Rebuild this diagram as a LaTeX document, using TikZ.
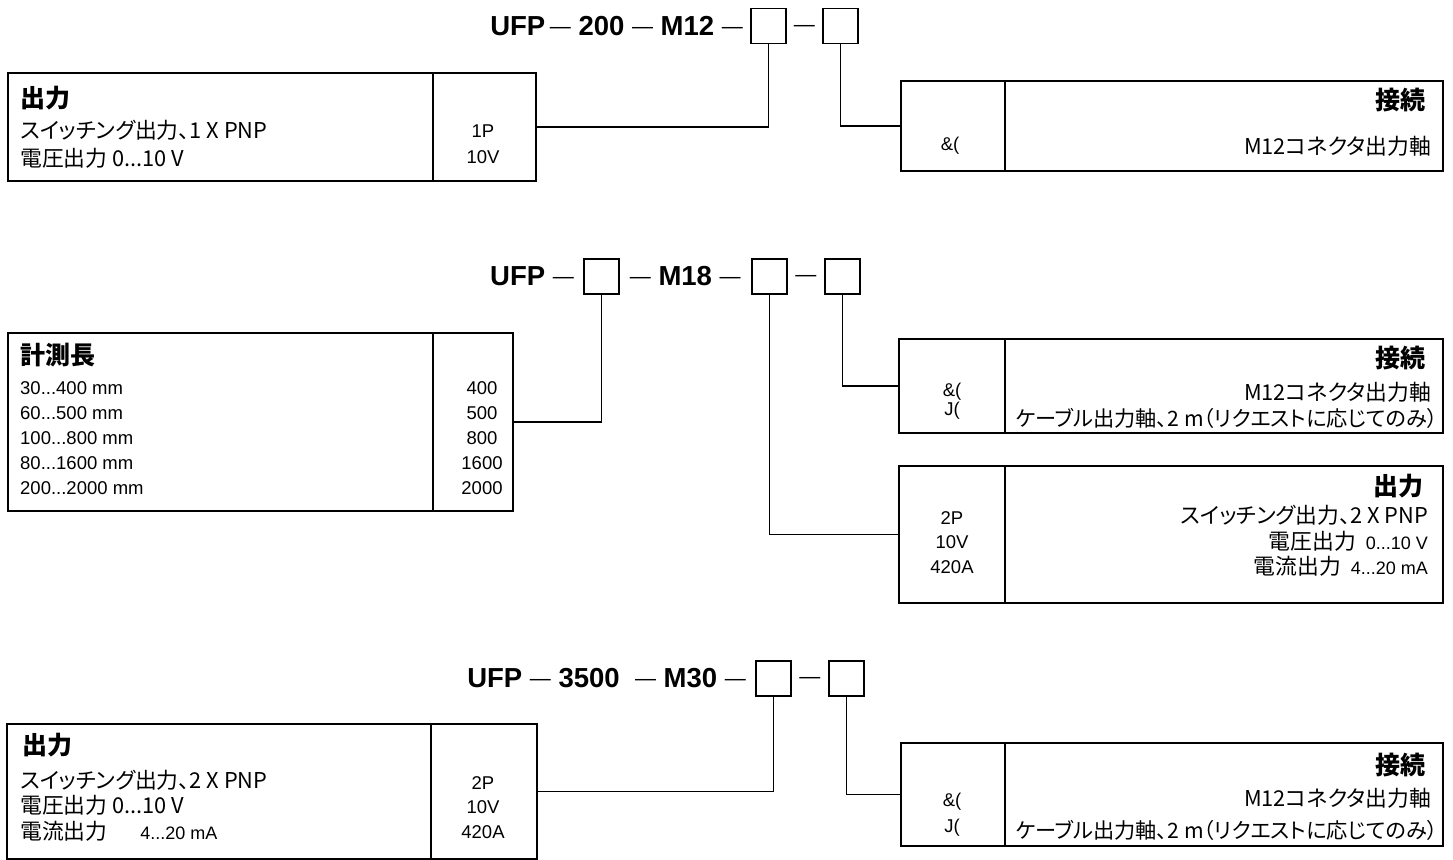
\documentclass[tikz,border=0pt]{standalone}
\usepackage{fontspec}
\setmainfont{Liberation Sans}
\newfontfamily\jpfont[RawFeature=+palt]{Noto Sans CJK JP}
\usetikzlibrary{positioning}

\tikzset{
  frame/.style={draw, line width=1.5pt},
  cell/.style={frame, inner sep=0pt, anchor=north west},
  selbox/.style={frame, minimum width=35pt, minimum height=35pt, inner sep=0pt, anchor=north west},
  link/.style={line width=1.5pt},
  code/.style={font=\fontsize{27.5}{30}\selectfont\bfseries, inner sep=0pt},
  joiner/.style={font=\fontsize{21}{24}\selectfont, inner sep=0pt},
  head/.style={font=\fontsize{25}{28}\selectfont\jpfont\bfseries, inner sep=0pt},
  jp/.style={font=\fontsize{21.8}{24}\selectfont\jpfont, inner sep=0pt},
  jplong/.style={font=\fontsize{21.2}{24}\selectfont\jpfont, inner sep=0pt},
  num/.style={font=\fontsize{18.5}{21}\selectfont, inner sep=0pt},
}
\newcommand{\dsh}{{\fontsize{21}{24}\selectfont\mdseries\raisebox{2pt}{—}}}
\newcommand{\numpart}{\fontsize{18}{21}\selectfont\rmfamily}

\begin{document}
\begin{tikzpicture}[x=1pt, y=-1pt]
\useasboundingbox (0,0) rectangle (1453,859);

% ---- 1. UFP-200-M12 ----
\node[selbox] (s11) at (750,8) {};
\node[selbox] (s12) at (822,8) {};
\node[code, anchor=east] (c1) at ([xshift=-7pt]s11.west) {UFP\,\dsh{} 200 \dsh{} M12 \dsh};
\path (s11.east) -- (s12.west) node[midway, joiner] (d11) {\vphantom{M}\raisebox{2pt}{—}};

\node[cell, minimum width=425pt, minimum height=108pt] (outA) at (7,72) {};
\node[cell, minimum width=103pt, minimum height=108pt] (outAc) at (432,72) {};
\node[head, anchor=west] (outAh) at (20,98) {出力};
\node[jp, anchor=west] (outA1) at (20,130) {スイッチング出力、1 X PNP};
\node[jp, anchor=west] (outA2) at (20,158) {電圧出力 0...10 V};
\node[num] (outAk1) at (483,131) {1P};
\node[num] (outAk2) at (483,157) {10V};

\node[cell, minimum width=104pt, minimum height=90pt] (conAc) at (900,80) {};
\node[cell, minimum width=438pt, minimum height=90pt] (conA) at (1004,80) {};
\node[head, anchor=east] (conAh) at (1426,100) {接続};
\node[jp, anchor=east] (conA1) at (1431,146) {M12コネクタ出力軸};
\node[num] (conAk1) at (950,146) {\&(};

\draw[link] (s11.south) |- (outAc.east);
\draw[link] (s12.south) |- (conAc.west);

% ---- 2. UFP-xxx-M18 ----
\node[selbox] (s21) at (583,258) {};
\node[selbox] (s22) at (751,258) {};
\node[selbox] (s23) at (824,258) {};
\node[code, anchor=east] (c2) at ([xshift=-9pt]s21.west) {UFP \dsh};
\path (s21.east) -- (s22.west) node[midway, code] (c2m) {\dsh{} M18 \dsh};
\path (s22.east) -- (s23.west) node[midway, joiner] (d22) {\vphantom{M}\raisebox{2pt}{—}};

\node[cell, minimum width=425pt, minimum height=178pt] (lenB) at (7,332) {};
\node[cell, minimum width=80pt, minimum height=178pt] (lenBc) at (432,332) {};
\node[head, anchor=west] (lenBh) at (20,355) {計測長};
\node[num, anchor=west] (lenB1) at (20,388) {30...400 mm};
\node[num, anchor=west] (lenB2) at (20,413) {60...500 mm};
\node[num, anchor=west] (lenB3) at (20,438) {100...800 mm};
\node[num, anchor=west] (lenB4) at (20,463) {80...1600 mm};
\node[num, anchor=west] (lenB5) at (20,488) {200...2000 mm};
\node[num] (lenBk1) at (482,388) {400};
\node[num] (lenBk2) at (482,413) {500};
\node[num] (lenBk3) at (482,438) {800};
\node[num] (lenBk4) at (482,463) {1600};
\node[num] (lenBk5) at (482,488) {2000};

\node[cell, minimum width=106pt, minimum height=94pt] (conBc) at (898,338) {};
\node[cell, minimum width=438pt, minimum height=94pt] (conB) at (1004,338) {};
\node[head, anchor=east] (conBh) at (1426,358) {接続};
\node[jp, anchor=east] (conB1) at (1431,392) {M12コネクタ出力軸};
\node[jplong, anchor=east] (conB2) at (1438,418) {ケーブル出力軸、2 m（リクエストに応じてのみ）};
\node[num] (conBk1) at (952,392) {\&(};
\node[num] (conBk2) at (952,411) {J(};

\node[cell, minimum width=106pt, minimum height=137pt] (outBc) at (898,465) {};
\node[cell, minimum width=438pt, minimum height=137pt] (outB) at (1004,465) {};
\node[head, anchor=east] (outBh) at (1424,486) {出力};
\node[jp, anchor=east] (outB1) at (1428,515) {スイッチング出力、2 X PNP};
\node[jp, anchor=east] (outB2) at (1428,541) {電圧出力 \ {\numpart 0...10 V}};
\node[jp, anchor=east] (outB3) at (1428,566) {電流出力 \ {\numpart 4...20 mA}};
\node[num] (outBk1) at (952,518) {2P};
\node[num] (outBk2) at (952,542) {10V};
\node[num] (outBk3) at (952,567) {420A};

\draw[link] (s21.south) |- (lenBc.east);
\draw[link] (s22.south) |- (outBc.west);
\draw[link] (s23.south) |- (conBc.west);

% ---- 3. UFP-3500-M30 ----
\node[selbox] (s31) at (755,660) {};
\node[selbox] (s32) at (828,660) {};
\node[code, anchor=east] (c3) at ([xshift=-9pt]s31.west) {UFP \dsh{} 3500 \ \dsh{} M30 \dsh};
\path (s31.east) -- (s32.west) node[midway, joiner] (d31) {\vphantom{M}\raisebox{2pt}{—}};

\node[cell, minimum width=424pt, minimum height=135pt] (outC) at (6,723) {};
\node[cell, minimum width=106pt, minimum height=135pt] (outCc) at (430,723) {};
\node[head, anchor=west] (outCh) at (22,745) {出力};
\node[jp, anchor=west] (outC1) at (20,780) {スイッチング出力、2 X PNP};
\node[jp, anchor=west] (outC2) at (20,805) {電圧出力 0...10 V};
\node[jp, anchor=west] (outC3) at (20,831) {電流出力 \hspace{28pt}{\numpart 4...20 mA}};
\node[num] (outCk1) at (483,783) {2P};
\node[num] (outCk2) at (483,807) {10V};
\node[num] (outCk3) at (483,832) {420A};

\node[cell, minimum width=104pt, minimum height=103pt] (conCc) at (900,742) {};
\node[cell, minimum width=438pt, minimum height=103pt] (conC) at (1004,742) {};
\node[head, anchor=east] (conCh) at (1426,765) {接続};
\node[jp, anchor=east] (conC1) at (1431,798) {M12コネクタ出力軸};
\node[jplong, anchor=east] (conC2) at (1438,830) {ケーブル出力軸、2 m（リクエストに応じてのみ）};
\node[num] (conCk1) at (952,802) {\&(};
\node[num] (conCk2) at (952,828) {J(};

\draw[link] (s31.south) |- (outCc.east);
\draw[link] (s32.south) |- (conCc.west);
\end{tikzpicture}
\end{document}
